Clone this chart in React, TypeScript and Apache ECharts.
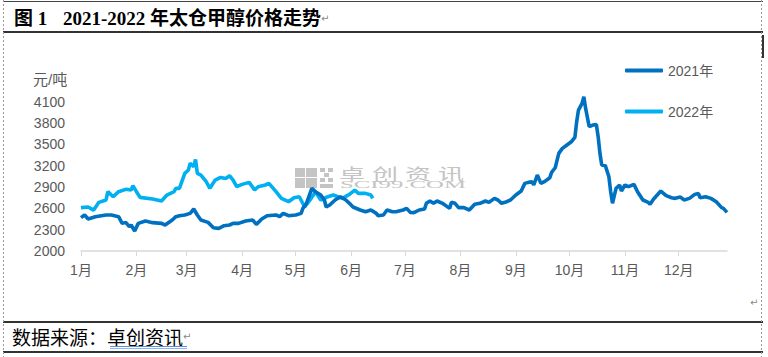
import React, { useEffect, useRef } from "react";
import * as echarts from "echarts";

const titleFigure = "图 1";
const titleText = "2021-2022 年太仓甲醇价格走势";
const sourceLabel = "数据来源：";
const sourceName = "卓创资讯";
const unitLabel = "元/吨";
const seriesNames = ["2021年", "2022年"];
const monthLabels = ["1月", "2月", "3月", "4月", "5月", "6月", "7月", "8月", "9月", "10月", "11月", "12月"];
const monthDays = [31, 28, 31, 30, 31, 30, 31, 31, 30, 31, 30, 31];
const yMin = 2000;
const yMax = 4400;
const yStep = 300;

const dates2021 = [
  "01-01", "01-03", "01-05", "01-09", "01-15", "01-18", "01-22", "01-24", "01-26", "01-28", "01-29", "01-31",
  "02-02", "02-06", "02-10", "02-15", "02-17", "02-21", "02-23", "02-25", "02-28",
  "03-03", "03-05", "03-07", "03-09", "03-13", "03-16", "03-19", "03-22", "03-25", "03-27", "03-30",
  "04-03", "04-07", "04-09", "04-12", "04-15", "04-20", "04-22", "04-24", "04-27",
  "05-01", "05-04", "05-05", "05-07", "05-09", "05-10", "05-12", "05-15", "05-17", "05-18", "05-20", "05-23", "05-26", "05-29", "05-31",
  "06-02", "06-06", "06-09", "06-12", "06-15", "06-16", "06-19", "06-21", "06-24", "06-26", "06-30",
  "07-02", "07-04", "07-06", "07-09", "07-12", "07-13", "07-15", "07-17", "07-19", "07-22", "07-26", "07-27", "07-29", "07-31",
  "08-03", "08-06", "08-09", "08-12", "08-15", "08-17", "08-20", "08-22", "08-24", "08-26", "08-29",
  "09-01", "09-04", "09-06", "09-08", "09-10", "09-11", "09-13", "09-15", "09-17", "09-20", "09-21", "09-23", "09-25", "09-27", "09-29",
  "10-02", "10-04", "10-05", "10-06", "10-08", "10-09", "10-10", "10-12", "10-14", "10-16", "10-17", "10-18", "10-19", "10-21", "10-23", "10-24", "10-25", "10-27", "10-29", "10-30",
  "11-01", "11-03", "11-06", "11-08", "11-11", "11-14", "11-15", "11-17", "11-19", "11-21", "11-24", "11-27", "11-29",
  "12-02", "12-04", "12-07", "12-10", "12-12", "12-13", "12-16", "12-19", "12-22", "12-25", "12-26", "12-28",
];
const values2021 = [
  2469, 2507, 2450, 2483, 2507, 2507, 2483, 2389, 2403, 2342, 2366, 2281,
  2389, 2422, 2399, 2389, 2366, 2436, 2483, 2497, 2507,
  2530, 2591, 2507, 2436, 2403, 2328, 2319, 2356, 2366, 2389, 2389,
  2422, 2436, 2375, 2450, 2497, 2507, 2483, 2530, 2497,
  2507, 2530, 2600, 2671, 2811, 2882, 2835, 2788, 2718, 2619, 2647, 2718, 2764, 2718, 2671,
  2619, 2577, 2553, 2577, 2530, 2497, 2507, 2577, 2553, 2553, 2577,
  2600, 2544, 2539, 2577, 2591, 2671, 2704, 2671, 2704, 2671, 2600, 2685, 2671, 2610,
  2610, 2577, 2657, 2671, 2704, 2685, 2741, 2718, 2671, 2685, 2718,
  2788, 2844, 2952, 2966, 2976, 2929, 3069, 2952, 2976, 3032, 3107, 3172, 3374, 3445, 3482,
  3538, 3599, 3820, 3984, 4078, 4172, 4007, 3749, 3773, 3782, 3609, 3374, 3210, 3201, 3046, 2835, 2671, 2882, 2929, 2844,
  2929, 2905, 2938, 2835, 2718, 2685, 2657, 2732, 2788, 2844, 2779, 2750, 2741,
  2760, 2718, 2741, 2797, 2811, 2750, 2764, 2741, 2694, 2610, 2600, 2544,
];

const dates2022 = [
  "01-01", "01-05", "01-08", "01-11", "01-15", "01-16", "01-19", "01-22", "01-26", "01-29", "01-30",
  "02-01", "02-03", "02-10", "02-15", "02-18", "02-22", "02-23", "02-25", "02-28",
  "03-02", "03-03", "03-05", "03-06", "03-07", "03-09", "03-12", "03-14", "03-17", "03-20", "03-23", "03-25", "03-27", "03-29",
  "04-01", "04-05", "04-08", "04-10", "04-14", "04-16", "04-20", "04-23", "04-27", "04-30",
  "05-03", "05-06", "05-09", "05-12", "05-15", "05-19", "05-22", "05-27", "05-31",
  "06-03", "06-05", "06-09", "06-12", "06-13",
];
const values2022 = [
  2610, 2620, 2575, 2685, 2718, 2835, 2764, 2835, 2868, 2858, 2919,
  2835, 2755, 2732, 2704, 2788, 2835, 2882, 2882, 3093,
  3140, 3234, 3187, 3290, 3093, 3069, 2975, 2882, 2999, 3036, 3022, 3060, 2999, 2905,
  2938, 2966, 2858, 2905, 2929, 2952, 2835, 2741, 2694, 2750,
  2764, 2619, 2718, 2835, 2718, 2764, 2788, 2741, 2797,
  2858, 2811, 2811, 2788, 2740,
];

function buildDays(lastDay: string): string[] {
  const out: string[] = [];
  for (let m = 0; m < 12; m++) {
    for (let d = 1; d <= monthDays[m]; d++) {
      const s = String(m + 1).padStart(2, "0") + "-" + String(d).padStart(2, "0");
      out.push(s);
      if (s === lastDay) return out;
    }
  }
  return out;
}

export default function App() {
  const ref = useRef<HTMLDivElement>(null);
  useEffect(() => {
    if (!ref.current) return;
    const chart = echarts.init(ref.current, undefined, { renderer: "svg" });
    const days = buildDays(dates2021[dates2021.length - 1]);
    const isMonthStart = (_i: number, v: string) => v.endsWith("-01");
    const cjk = '"Liberation Sans", "Noto Sans CJK SC", sans-serif';
    const serifBold = '"Liberation Serif", "Noto Sans CJK SC", serif';
    const wm = "#c4c4c4";
    const option: any = {
      animation: false,
      backgroundColor: "#ffffff",
      grid: { left: 81, right: 41, top: 80.5, bottom: 106, containLabel: false },
      legend: {
        data: seriesNames,
        orient: "vertical",
        left: 625,
        top: 62.5,
        padding: 0,
        itemWidth: 38,
        itemHeight: 4,
        itemGap: 25,
        icon: "roundRect",
        textStyle: { color: "#595959", fontSize: 14, lineHeight: 16, fontFamily: cjk },
      },
      xAxis: {
        type: "category",
        data: days,
        boundaryGap: false,
        axisLine: { lineStyle: { color: "#d9d9d9", width: 1.5 } },
        axisTick: { interval: isMonthStart, length: 5, lineStyle: { color: "#d9d9d9", width: 1 } },
        axisLabel: {
          interval: isMonthStart,
          formatter: (v: string) => monthLabels[parseInt(v.slice(0, 2), 10) - 1],
          color: "#595959",
          fontSize: 14,
          margin: 12,
          fontFamily: cjk,
        },
        splitLine: { show: false },
      },
      yAxis: {
        type: "value",
        min: yMin,
        max: yMax,
        interval: yStep,
        axisLine: { show: false },
        axisTick: { show: false },
        splitLine: { show: false },
        axisLabel: {
          formatter: (v: number) => (v >= yMax ? "" : String(v)),
          color: "#595959",
          fontSize: 14,
          margin: 16,
          fontFamily: cjk,
        },
      },
      series: [
        {
          name: seriesNames[1],
          type: "line",
          showSymbol: false,
          data: dates2022.map((d, i) => [d, values2022[i]]),
          lineStyle: { color: "#00B0F0", width: 3.6 },
          itemStyle: { color: "#00B0F0" },
          z: 3,
        },
        {
          name: seriesNames[0],
          type: "line",
          showSymbol: false,
          data: dates2021.map((d, i) => [d, values2021[i]]),
          lineStyle: { color: "#0070C0", width: 3.6 },
          itemStyle: { color: "#0070C0" },
          z: 4,
        },
      ],
      graphic: [
        // frame lines
        { type: "line", z: 0, shape: { x1: 3, y1: 1.5, x2: 763, y2: 1.5 }, style: { stroke: "#444", lineWidth: 1 } },
        { type: "line", z: 0, shape: { x1: 3, y1: 32, x2: 763, y2: 32 }, style: { stroke: "#333", lineWidth: 2 } },
        { type: "line", z: 0, shape: { x1: 3, y1: 322, x2: 763, y2: 322 }, style: { stroke: "#333", lineWidth: 2 } },
        { type: "line", z: 0, shape: { x1: 3, y1: 352, x2: 763, y2: 352 }, style: { stroke: "#333", lineWidth: 2 } },
        { type: "line", z: 0, shape: { x1: 3.5, y1: 0, x2: 3.5, y2: 357 }, style: { stroke: "#9a9a9a", lineWidth: 1, lineDash: [2, 2] } },
        { type: "line", z: 0, shape: { x1: 761.5, y1: 0, x2: 761.5, y2: 357 }, style: { stroke: "#9a9a9a", lineWidth: 1, lineDash: [2, 2] } },
        { type: "line", z: 0, shape: { x1: 763, y1: 35, x2: 763, y2: 58 }, style: { stroke: "#333", lineWidth: 2 } },
        // title
        {
          type: "text",
          z: 5,
          x: 14,
          y: 18,
          style: { text: titleFigure, fontSize: 19, fontWeight: "bold", fill: "#000", verticalAlign: "middle", fontFamily: serifBold },
        },
        {
          type: "text",
          z: 5,
          x: 63,
          y: 18,
          style: {
            text: "{t|" + titleText + "}{a|↵}",
            verticalAlign: "middle",
            rich: {
              t: { fontSize: 19, fontWeight: "bold", fill: "#000", fontFamily: serifBold },
              a: { fontSize: 10, fill: "#888", fontFamily: "DejaVu Sans" },
            },
          },
        },
        // unit
        {
          type: "text",
          z: 5,
          x: 33,
          y: 79,
          style: { text: unitLabel, fontSize: 15, fill: "#595959", verticalAlign: "middle", fontFamily: cjk },
        },
        // paragraph mark
        { type: "text", z: 5, x: 750, y: 302, style: { text: "↵", fontSize: 10, fill: "#888", verticalAlign: "middle", fontFamily: "DejaVu Sans" } },
        // footer
        {
          type: "text",
          z: 5,
          x: 12,
          y: 336,
          style: {
            text: "{s|" + sourceLabel + "}{n|" + sourceName + "}{a|↵}",
            verticalAlign: "middle",
            rich: {
              s: { fontSize: 19, fill: "#000", fontFamily: '"Noto Sans CJK SC"' },
              n: { fontSize: 19, fill: "#000", fontFamily: '"Noto Sans CJK SC"' },
              a: { fontSize: 10, fill: "#888", fontFamily: "DejaVu Sans" },
            },
          },
        },
        { type: "line", z: 5, shape: { x1: 110, y1: 346.5, x2: 187, y2: 346.5 }, style: { stroke: "#5b8fe0", lineWidth: 1 } },
        { type: "line", z: 5, shape: { x1: 110, y1: 348.5, x2: 187, y2: 348.5 }, style: { stroke: "#8fb4ee", lineWidth: 1 } },
        // watermark logo
        { type: "rect", z: 1, shape: { x: 295, y: 168, width: 10, height: 9 }, style: { fill: wm } },
        { type: "rect", z: 1, shape: { x: 306, y: 168, width: 11, height: 9 }, style: { fill: wm } },
        { type: "rect", z: 1, shape: { x: 295, y: 178, width: 10, height: 10 }, style: { fill: wm } },
        { type: "rect", z: 1, shape: { x: 306, y: 178, width: 11, height: 10 }, style: { fill: wm } },
        { type: "rect", z: 1, shape: { x: 320, y: 168, width: 5, height: 4 }, style: { fill: wm } },
        { type: "rect", z: 1, shape: { x: 328, y: 168, width: 5, height: 4 }, style: { fill: wm } },
        { type: "rect", z: 1, shape: { x: 324, y: 173, width: 5, height: 4 }, style: { fill: wm } },
        { type: "rect", z: 1, shape: { x: 320, y: 178, width: 5, height: 4 }, style: { fill: wm } },
        { type: "rect", z: 1, shape: { x: 328, y: 178, width: 5, height: 4 }, style: { fill: wm } },
        { type: "rect", z: 1, shape: { x: 320, y: 184, width: 13, height: 4 }, style: { fill: wm } },
        ...["卓", "创", "资", "讯"].map((c, i) => ({
          type: "text",
          z: 1,
          x: 352 + i * 33,
          y: 173,
          scaleY: 0.6,
          style: { text: c, fontSize: 26, fill: wm, align: "center", verticalAlign: "middle", fontFamily: '"Noto Sans CJK SC"' },
        })),
        {
          type: "text",
          z: 1,
          x: 340,
          y: 184.5,
          scaleX: 1.55,
          scaleY: 0.62,
          style: { text: "SCI99.COM", fontSize: 16, fill: wm, verticalAlign: "middle", fontFamily: '"Liberation Serif"' },
        },
      ],
    };
    chart.setOption(option);
    return () => chart.dispose();
  }, []);
  return (
    <div
      ref={ref}
      style={{ position: "absolute", left: 0, top: 0, width: 768, height: 357, background: "#fff" }}
    />
  );
}
